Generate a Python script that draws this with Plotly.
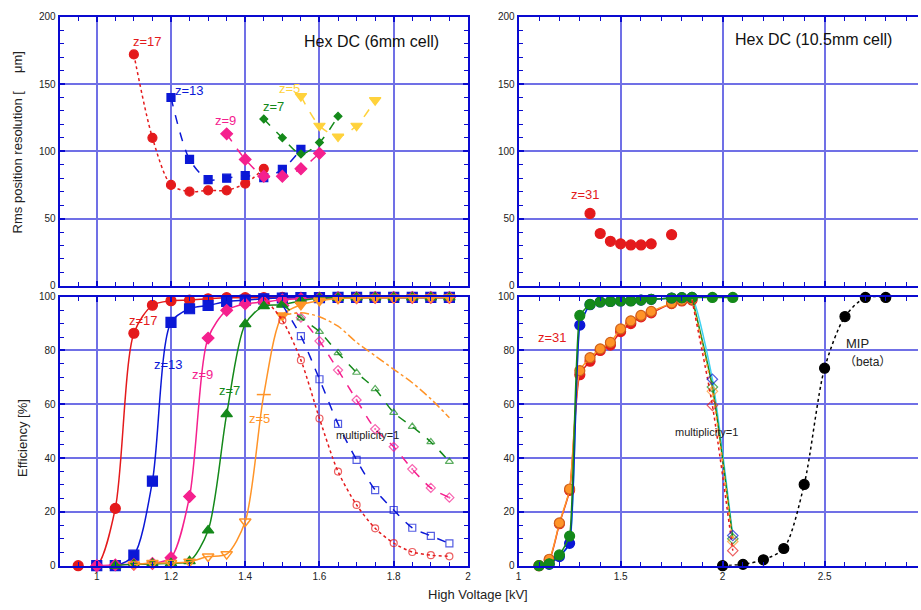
import plotly.graph_objects as go

# ---------------- Hex DC, 6 mm cell: rms position resolution [um] ----------------
res_hv_z17 = [1.10, 1.15, 1.20, 1.25, 1.30, 1.35, 1.40, 1.45]
res_z17 = [172, 110, 75, 70, 71, 71, 76, 87]
res_hv_z13 = [1.20, 1.25, 1.30, 1.35, 1.40, 1.45, 1.50, 1.55]
res_z13 = [140, 94, 79, 80, 82, 80.5, 86.5, 101.5]
res_hv_z9 = [1.35, 1.40, 1.45, 1.50, 1.55, 1.60]
res_z9 = [113, 94, 81.5, 81.5, 87, 98.5]
res_hv_z7 = [1.45, 1.50, 1.55, 1.60, 1.65]
res_z7 = [124, 110, 98, 106.5, 126]
res_hv_z5 = [1.55, 1.60, 1.65, 1.70, 1.75]
res_z5 = [141, 119, 111, 119, 138]

# ---------------- Hex DC, 6 mm cell: efficiency [%] ----------------
eff_hv_z17 = [0.95, 1.00, 1.05, 1.10, 1.15, 1.20, 1.25, 1.30, 1.35, 1.40, 1.45,
              1.50, 1.55, 1.60, 1.65, 1.70, 1.75, 1.80, 1.85, 1.90, 1.95]
eff_z17 = [0, 0, 21.3, 86.4, 96.8, 98.5, 98.7, 99.2, 99.6, 99.6, 99.6,
           99.7, 99.7, 99.7, 99.7, 99.7, 99.7, 99.7, 99.7, 99.7, 99.7]
eff_hv_z13 = [1.00, 1.05, 1.10, 1.15, 1.20, 1.25, 1.30, 1.35, 1.40, 1.45,
              1.50, 1.55, 1.60, 1.65, 1.70, 1.75, 1.80, 1.85, 1.90, 1.95]
eff_z13 = [0, 0, 3.9, 31.4, 90.4, 95.5, 96.7, 98.2, 98.7, 99.2,
           99.5, 99.6, 99.6, 99.7, 99.7, 99.7, 99.7, 99.7, 99.7, 99.7]
eff_hv_z9 = [1.00, 1.05, 1.10, 1.15, 1.20, 1.25, 1.30, 1.35, 1.40, 1.45,
             1.50, 1.55, 1.60, 1.65, 1.70, 1.75, 1.80, 1.85, 1.90, 1.95]
eff_z9 = [0, 0.3, 0.5, 0.8, 3.0, 25.7, 84.6, 94.9, 97.3, 98.0,
          98.8, 99.2, 99.4, 99.6, 99.6, 99.7, 99.7, 99.7, 99.7, 99.7]
eff_hv_z7 = [1.05, 1.10, 1.15, 1.20, 1.25, 1.30, 1.35, 1.40, 1.45,
             1.50, 1.55, 1.60, 1.65, 1.70, 1.75, 1.80, 1.85, 1.90, 1.95]
eff_z7 = [0, 0.5, 0.7, 0.9, 1.7, 13.1, 56.3, 89.8, 96.5,
          97.0, 98.5, 99.5, 99.6, 99.7, 99.7, 99.7, 99.7, 99.7, 99.7]
eff_hv_z5 = [1.10, 1.15, 1.20, 1.25, 1.30, 1.35, 1.40, 1.45,
             1.50, 1.55, 1.60, 1.65, 1.70, 1.75, 1.80, 1.85, 1.90, 1.95]
eff_z5 = [0.4, 1.0, 1.0, 1.5, 3.4, 4.3, 16.4, 63.6,
          93.0, 97.0, 98.5, 99.3, 99.5, 99.6, 99.6, 99.7, 99.7, 99.7]

# multiplicity = 1 efficiency
m1_hv_z17 = [1.45, 1.50, 1.55, 1.60, 1.65, 1.70, 1.75, 1.80, 1.85, 1.90, 1.95]
m1_z17 = [99.6, 91.2, 76.4, 54.7, 35.0, 22.6, 13.9, 8.4, 5.1, 3.9, 3.5]
m1_hv = [1.50, 1.55, 1.60, 1.65, 1.70, 1.75, 1.80, 1.85, 1.90, 1.95]
m1_z13 = [97.0, 85.3, 69.3, 52.7, 39.3, 28.1, 20.7, 14.1, 11.1, 8.3]
m1_z9 = [98.8, 92.2, 83.5, 72.7, 61.6, 50.8, 44.2, 35.9, 28.9, 25.3]
m1_z7 = [97.0, 92.0, 87.0, 79.1, 71.8, 65.7, 56.9, 51.7, 46.0, 38.7]
m1_z5 = [93.0, 94.0, 92.5, 89.0, 83.0, 78.0, 73.0, 68.0, 62.0, 55.0]

# ---------------- Hex DC, 10.5 mm cell ----------------
res_hv_z31 = [1.35, 1.40, 1.45, 1.50, 1.55, 1.60, 1.65, 1.75]
res_z31 = [53.8, 38.9, 33.1, 31.2, 30.4, 30.4, 31.2, 38.0]

eff_hv_z31 = [1.10, 1.15, 1.20, 1.25, 1.30, 1.35, 1.40, 1.45, 1.50,
              1.55, 1.60, 1.65, 1.75, 1.80, 1.85]
eff_z31_red = [0, 2.0, 15.6, 28.0, 71.0, 76.0, 80.0, 82.0, 87.0,
               90.0, 92.5, 94.0, 97.4, 98.4, 98.7]
eff_z31_orange = [0, 2.4, 15.9, 28.5, 72.5, 77.3, 80.6, 83.0, 88.0,
                  91.0, 93.0, 94.5, 97.6, 98.6, 99.0]
eff_hv_z31_blue = [1.15, 1.20, 1.25, 1.30, 1.35, 1.40, 1.45, 1.50,
                   1.55, 1.60, 1.65, 1.75, 1.80, 1.85]
eff_z31_blue = [0.5, 3.4, 8.3, 89.4, 97.0, 98.0, 98.2, 98.4,
                98.5, 98.7, 99.0, 99.5, 99.6, 99.7]
eff_hv_z31_green = [1.10, 1.15, 1.20, 1.25, 1.30, 1.35, 1.40, 1.45, 1.50,
                    1.55, 1.60, 1.65, 1.75, 1.80, 1.85, 1.95, 2.05]
eff_z31_green = [0, 0.7, 4.0, 11.0, 93.0, 97.1, 98.0, 98.2, 98.4,
                 98.4, 98.7, 99.0, 99.5, 99.6, 99.7, 99.7, 99.7]

m1_hv_z31 = [1.85, 1.95, 2.05]
m1_z31_blue = [99.7, 69.3, 11.2]
m1_z31_green = [99.7, 66.4, 10.0]
m1_z31_orange = [99.0, 64.8, 9.0]
m1_z31_red = [98.7, 59.6, 5.6]

mip_hv = [2.0, 2.1, 2.2, 2.3, 2.4, 2.5, 2.6, 2.7, 2.8]
mip_eff = [0, 0.5, 2.2, 6.4, 30.2, 73.4, 92.6, 99.7, 99.7]

# ---------------- colours ----------------
RED = "#e41a1c"
BLUE = "#0b18d6"
PINK = "#f5208e"
GREEN = "#14891a"
YELLOW = "#ffd23c"
ORANGE = "#ff9428"
CYAN = "#3ed2f2"
BLACK = "#000000"

FONT = "Liberation Sans, Arial, Noto Sans CJK JP, sans-serif"

fig = go.Figure()


def add(x, y, ax, color, symbol="circle", size=9, dash="solid", width=1.5,
        mode="lines+markers", shape="spline", smoothing=0.8, mcolor=None,
        mline=None):
    fig.add_trace(go.Scatter(
        x=x, y=y, xaxis="x" + ax, yaxis="y" + ax, mode=mode,
        line=dict(color=color, width=width, dash=dash, shape=shape,
                  smoothing=smoothing),
        marker=dict(symbol=symbol, size=size,
                    color=mcolor if mcolor is not None else color,
                    line=dict(color=mline if mline else color, width=1.2)),
        cliponaxis=False, showlegend=False))


# --- top left: resolution ---
add(res_hv_z17, res_z17, "", RED, "circle", 9, "dot")
add(res_hv_z13, res_z13, "", BLUE, "square", 8, "dash")
add(res_hv_z9, res_z9, "", PINK, "diamond", 9, "dash")
add(res_hv_z7, res_z7, "", GREEN, "diamond", 6, "dash")
add(res_hv_z5, res_z5, "", YELLOW, "triangle-down", 10, "dash")

# --- bottom left: efficiency ---
add(eff_hv_z17, eff_z17, "2", RED, "circle", 10)
add(eff_hv_z13, eff_z13, "2", BLUE, "square", 10)
add(eff_hv_z9, eff_z9, "2", PINK, "diamond", 9)
add(eff_hv_z7, eff_z7, "2", GREEN, "triangle-up", 10)
orange_sym = ["triangle-down-open"] * 7 + ["line-ew-open"] + ["triangle-down"] * 10
fig.add_trace(go.Scatter(
    x=eff_hv_z5, y=eff_z5, xaxis="x2", yaxis="y2", mode="lines+markers",
    line=dict(color=ORANGE, width=1.5, shape="spline", smoothing=0.8),
    marker=dict(symbol=orange_sym, size=10, color=ORANGE,
                line=dict(color=ORANGE, width=1.5)),
    cliponaxis=False, showlegend=False))

# multiplicity = 1 (open markers)
add(m1_hv_z17, m1_z17, "2", RED, "circle-open", [0] + [7] * 10, "dot", 1.5)
add(m1_hv, m1_z13, "2", BLUE, "square-open", [0] + [7] * 9, "dash", 1.5)
add(m1_hv, m1_z9, "2", PINK, "diamond-open-dot", [0] + [7] * 9, "dash", 1.5)
add(m1_hv, m1_z7, "2", GREEN, "triangle-up-open", [0] + [7] * 9, "dash", 1.5)
add(m1_hv, m1_z5, "2", ORANGE, "circle", 0, "dashdot", 1.5, mode="lines")

# --- top right: resolution z=31 ---
add(res_hv_z31, res_z31, "3", RED, "circle", 10, mode="markers")

# --- bottom right: efficiency z=31 and MIP ---
add(eff_hv_z31_blue + m1_hv_z31[1:], eff_z31_blue + m1_z31_blue[1:], "4", CYAN,
    mode="lines", smoothing=0.5)
add(eff_hv_z31, eff_z31_red, "4", RED, "circle", 10, smoothing=0.6)
add(eff_hv_z31, eff_z31_orange, "4", ORANGE, "circle", 10, smoothing=0.6,
    mline="#d0601a")
add(eff_hv_z31_blue, eff_z31_blue, "4", BLUE, "circle", 10, smoothing=0.4)
add(eff_hv_z31_green, eff_z31_green, "4", GREEN, "circle", 10, smoothing=0.4)
add(m1_hv_z31, m1_z31_green, "4", GREEN, "diamond-open", [0, 8, 8], smoothing=0.6)
add(m1_hv_z31, m1_z31_orange, "4", ORANGE, "diamond-open", [0, 8, 8], "dot", smoothing=0.6)
add(m1_hv_z31, m1_z31_red, "4", RED, "diamond-open", [0, 8, 8], "dot", smoothing=0.6)
add(m1_hv_z31, m1_z31_blue, "4", BLUE, "diamond-open", [0, 8, 8], mode="markers")
add(mip_hv, mip_eff, "4", BLACK, "circle", 10, "dot", 1.5, smoothing=0.8)

# ---------------- axes ----------------
W, H = 921, 610
LEFT_X = [57 / W, 468 / W]
RIGHT_X = [519 / W, 1.0]
TOP_Y = [1 - 286 / H, 1 - 12 / H]
BOT_Y = [1 - 571 / H, 1 - 297 / H]

AX_LINE = "#0a0ad0"
GRID = "#7070e6"


def axis(rng, dtick, minor, domain, anchor, labels=True, mirror="allticks", tick0=None):
    d = dict(range=rng, dtick=dtick, domain=domain, anchor=anchor,
             showline=True, linecolor=AX_LINE, linewidth=2, mirror=mirror,
             ticks="inside", ticklen=5, tickwidth=1.5, tickcolor=AX_LINE,
             showgrid=True, gridcolor=GRID, gridwidth=2, zeroline=False,
             showticklabels=labels,
             tickfont=dict(family=FONT, size=10, color="#222222"),
             minor=dict(dtick=minor, ticks="inside", ticklen=4, tickwidth=1,
                        tickcolor=AX_LINE, showgrid=False))
    if tick0 is not None:
        d["tick0"] = tick0
    return d


fig.update_layout(
    width=W, height=H,
    margin=dict(l=0, r=0, t=0, b=0),
    paper_bgcolor="white", plot_bgcolor="white",
    showlegend=False,
    font=dict(family=FONT, color="#222222"),
    xaxis=axis([0.9, 2.0], 0.2, 0.05, LEFT_X, "y", labels=False, tick0=1.0),
    yaxis=axis([0, 200], 50, 10, TOP_Y, "x"),
    xaxis2=axis([0.9, 2.0], 0.2, 0.05, LEFT_X, "y2", tick0=1.0),
    yaxis2=axis([0, 100], 20, 5, BOT_Y, "x2"),
    xaxis3=axis([1.0, 2.958], 0.5, 0.1, RIGHT_X, "y3", labels=False, tick0=1.0),
    yaxis3=axis([0, 200], 50, 10, TOP_Y, "x3", mirror=False),
    xaxis4=axis([1.0, 2.958], 0.5, 0.1, RIGHT_X, "y4", tick0=1.0),
    yaxis4=axis([0, 100], 20, 5, BOT_Y, "x4", mirror=False),
)


def label(text, x, y, ax, color, size=13, xanchor="center"):
    fig.add_annotation(text=text, x=x, y=y, xref="x" + ax, yref="y" + ax,
                       showarrow=False, xanchor=xanchor, yanchor="middle",
                       font=dict(family=FONT, size=size, color=color))


# panel titles
label("Hex DC (6mm cell)", 1.739, 182, "", "#111111", 16)
label("Hex DC (10.5mm cell)", 2.447, 183, "3", "#111111", 16)

# curve labels, resolution
label("z=17", 1.138, 182, "", RED)
label("z=13", 1.251, 145, "", BLUE)
label("z=9", 1.347, 123, "", PINK)
label("z=7", 1.475, 133, "", GREEN)
label("z=5", 1.518, 147, "", YELLOW)
label("z=31", 1.326, 68, "3", RED)

# curve labels, efficiency
label("z=17", 1.127, 91, "2", RED)
label("z=13", 1.194, 74.6, "2", BLUE)
label("z=9", 1.285, 70.9, "2", PINK)
label("z=7", 1.358, 65.1, "2", GREEN)
label("z=5", 1.439, 54.7, "2", ORANGE)
label("multiplicity=1", 1.729, 48.6, "2", "#222222", 11)
label("z=31", 1.164, 85, "4", RED)
label("multiplicity=1", 1.921, 49.6, "4", "#222222", 11)
label("MIP", 2.596, 82.5, "4", "#222222", 13, xanchor="left")
label("（beta）", 2.585, 75.8, "4", "#222222", 12, xanchor="left")

# axis titles
fig.add_annotation(text="Rms position resolution [     μm]", x=15 / W, y=1 - 140 / H,
                   xref="paper", yref="paper", showarrow=False, textangle=-90,
                   xanchor="center", yanchor="middle",
                   font=dict(family=FONT, size=13, color="#222222"))
fig.add_annotation(text="Efficiency [%]", x=19 / W, y=1 - 441 / H,
                   xref="paper", yref="paper", showarrow=False, textangle=-90,
                   xanchor="center", yanchor="middle",
                   font=dict(family=FONT, size=13, color="#222222"))
fig.add_annotation(text="High Voltage [kV]", x=478 / W, y=1 - 600 / H,
                   xref="paper", yref="paper", showarrow=False,
                   xanchor="center", yanchor="middle",
                   font=dict(family=FONT, size=13, color="#222222"))

fig.write_html("out.html")
